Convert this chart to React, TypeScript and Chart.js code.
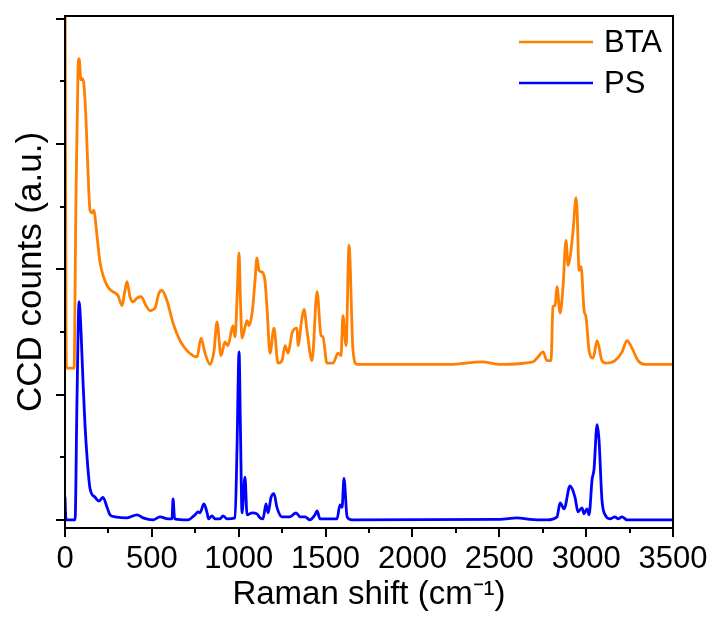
import React, { useEffect, useRef } from "react";
import { Chart, registerables } from "chart.js";

Chart.register(...registerables);

// ---- Data (Raman shift in cm-1, CCD counts in a.u., PS offset 0, BTA offset ~1.2) ----
const btaX = [
  0, 8, 52, 63, 75, 81, 92, 101, 109, 121, 132, 144, 155, 167, 178, 190, 201, 219, 242, 265,
  288, 305, 328, 345, 357, 374, 391, 415, 438, 466, 489, 518, 541, 558, 587, 622, 662, 702, 737, 760,
  783, 806, 835, 858, 875, 898, 921, 938, 967, 979, 990, 1002, 1010, 1019, 1048, 1059, 1077, 1094, 1105, 1117,
  1128, 1140, 1151, 1163, 1180, 1203, 1226, 1249, 1267, 1284, 1307, 1336, 1341, 1364, 1376, 1393, 1422, 1451, 1474, 1485,
  1508, 1543, 1572, 1589, 1600, 1618, 1635, 1658, 1681, 1929, 2216, 2400, 2504, 2694, 2723, 2752, 2775, 2798, 2809, 2821,
  2832, 2850, 2867, 2884, 2896, 2907, 2925, 2942, 2948, 2959, 2971, 2988, 2999, 3017, 3040, 3063, 3091, 3114, 3166, 3207,
  3235, 3264, 3299, 3339, 3500,
];
const btaY = [
  4.6, 1.21, 1.21, 2.55, 3.59, 3.68, 3.51, 3.52, 3.47, 3.19, 2.79, 2.47, 2.45, 2.47, 2.35, 2.19, 2.06, 1.95, 1.87, 1.83,
  1.81, 1.79, 1.71, 1.83, 1.9, 1.78, 1.74, 1.77, 1.78, 1.71, 1.67, 1.69, 1.81, 1.83, 1.75, 1.57, 1.43, 1.35, 1.31, 1.3,
  1.45, 1.33, 1.24, 1.35, 1.58, 1.31, 1.42, 1.39, 1.55, 1.46, 1.75, 2.13, 1.75, 1.45, 1.59, 1.55, 1.65, 1.91, 2.09, 1.99,
  1.98, 1.97, 1.91, 1.69, 1.33, 1.53, 1.25, 1.27, 1.39, 1.33, 1.49, 1.53, 1.39, 1.61, 1.68, 1.51, 1.27, 1.82, 1.47, 1.46,
  1.25, 1.25, 1.33, 1.31, 1.63, 1.39, 2.19, 1.35, 1.24, 1.24, 1.24, 1.26, 1.24, 1.26, 1.3, 1.34, 1.27, 1.27, 1.7, 1.71,
  1.86, 1.65, 1.86, 2.23, 2.03, 2.09, 2.31, 2.57, 2.47, 1.99, 2.02, 1.67, 1.62, 1.35, 1.29, 1.43, 1.27, 1.25, 1.27, 1.34,
  1.43, 1.37, 1.27, 1.24, 1.24,
];

const psX = [
  0, 6, 12, 58, 69, 81, 92, 104, 115, 127, 144, 173, 196, 219, 242, 259, 288, 357, 415, 449,
  507, 547, 593, 616, 622, 631, 708, 748, 766, 777, 800, 818, 826, 846, 864, 892, 910, 933, 979, 990,
  1002, 1010, 1019, 1036, 1048, 1077, 1105, 1123, 1140, 1157, 1169, 1186, 1203, 1220, 1249, 1295, 1330, 1353, 1382, 1410,
  1439, 1451, 1468, 1566, 1583, 1595, 1606, 1624, 1652, 2504, 2602, 2677, 2775, 2832, 2850, 2873, 2907, 2936, 2953, 2976,
  2988, 3005, 3017, 3034, 3045, 3063, 3074, 3091, 3109, 3137, 3166, 3183, 3207, 3235, 3500,
];
const psY = [
  0.18, 0.0, 0.0, 0.0, 0.96, 1.74, 1.51, 1.09, 0.76, 0.5, 0.25, 0.18, 0.15, 0.18, 0.1, 0.04, 0.024, 0.016, 0.04, 0.016,
  0.0, 0.024, 0.008, 0.008, 0.167, 0.008, 0.0, 0.04, 0.064, 0.056, 0.127, 0.056, 0.008, 0.032, 0.008, 0.008, 0.032, 0.008, 0.016, 0.56,
  1.34, 0.72, 0.056, 0.34, 0.04, 0.056, 0.048, 0.016, 0.008, 0.127, 0.056, 0.18, 0.21, 0.1, 0.024, 0.024, 0.056, 0.024, 0.024, 0.0,
  0.04, 0.072, 0.008, 0.008, 0.12, 0.1, 0.33, 0.024, 0.0, 0.004, 0.016, 0.004, 0.0, 0.024, 0.135, 0.088, 0.27, 0.18, 0.064, 0.096,
  0.048, 0.088, 0.04, 0.32, 0.4, 0.76, 0.64, 0.16, 0.04, 0.008, 0.024, 0.008, 0.024, 0.0, 0.0,
];

const seriesLabels = ["BTA", "PS"];
const seriesColors = ["#FF7F00", "#0000FF"];

const xMajorTicks = [0, 500, 1000, 1500, 2000, 2500, 3000, 3500];
const xMinorTicks = [250, 750, 1250, 1750, 2250, 2750, 3250];
const yMajorTicks = [0, 1, 2, 3, 4];
const yMinorTicks = [0.5, 1.5, 2.5, 3.5];

const xTitle = "Raman shift (cm⁻¹)";
const yTitle = "CCD counts (a.u.)";

const FONT = "'Liberation Sans', Arial, Helvetica, sans-serif";

const framePlugin = {
  id: "frameAndLegend",
  afterDatasetsDraw(chart: any) {
    const { ctx, chartArea: a, scales } = chart;
    const xs = scales.x;
    const ys = scales.y;
    ctx.save();
    ctx.strokeStyle = "#000";
    ctx.lineWidth = 2;
    ctx.strokeRect(a.left, a.top, a.right - a.left, a.bottom - a.top);
    ctx.lineWidth = 2;
    ctx.beginPath();
    const tick = (v: number, len: number, horiz: boolean) => {
      if (horiz) {
        const px = Math.round(xs.getPixelForValue(v));
        ctx.moveTo(px, a.bottom);
        ctx.lineTo(px, a.bottom + len);
      } else {
        const py = Math.round(ys.getPixelForValue(v));
        ctx.moveTo(a.left, py);
        ctx.lineTo(a.left - len, py);
      }
    };
    xMajorTicks.forEach((v) => tick(v, 9, true));
    xMinorTicks.forEach((v) => tick(v, 5, true));
    yMajorTicks.forEach((v) => tick(v, 9, false));
    yMinorTicks.forEach((v) => tick(v, 5, false));
    ctx.stroke();

    // legend
    const ds = chart.data.datasets;
    ctx.font = `31px ${FONT}`;
    ctx.textBaseline = "middle";
    ctx.textAlign = "left";
    ds.forEach((d: any, i: number) => {
      const y = a.top + 26 + i * 41;
      ctx.strokeStyle = d.borderColor;
      ctx.lineWidth = 2.5;
      ctx.beginPath();
      ctx.moveTo(a.right - 154, y);
      ctx.lineTo(a.right - 80, y);
      ctx.stroke();
      ctx.fillStyle = "#000";
      ctx.fillText(d.label, a.right - 69, y + 1);
    });
    ctx.restore();
  },
};

export default function App() {
  const ref = useRef<HTMLCanvasElement | null>(null);
  useEffect(() => {
    if (!ref.current) return;
    const mk = (xs: number[], ys: number[]) => xs.map((x, i) => ({ x, y: ys[i] }));
    const common = {
      borderWidth: 2.8,
      pointRadius: 0,
      cubicInterpolationMode: "monotone",
      borderJoinStyle: "round",
      borderCapStyle: "round",
    };
    const chart = new Chart(ref.current, {
      type: "line",
      data: {
        datasets: [
          {
            ...common,
            label: seriesLabels[0],
            data: mk(btaX, btaY),
            borderColor: seriesColors[0],
            backgroundColor: seriesColors[0],
            order: 1,
          },
          {
            ...common,
            label: seriesLabels[1],
            data: mk(psX, psY),
            borderColor: seriesColors[1],
            backgroundColor: seriesColors[1],
            order: 0,
          },
        ],
      },
      options: {
        responsive: false,
        animation: false,
        events: [],
        layout: { padding: { top: 16, right: 40, left: 0, bottom: 0 } },
        plugins: {
          legend: { display: false },
          tooltip: { enabled: false },
        },
        scales: {
          x: {
            type: "linear",
            min: 0,
            max: 3500,
            grid: { display: false, drawTicks: false },
            border: { display: false },
            afterBuildTicks: (s: any) => {
              s.ticks = xMajorTicks.map((v) => ({ value: v }));
            },
            ticks: {
              padding: 13,
              color: "#000",
              font: { size: 31, family: FONT },
              maxRotation: 0,
              autoSkip: false,
              callback: (v: any) => String(v),
            },
            title: {
              display: true,
              text: xTitle,
              color: "#000",
              font: { size: 33, family: FONT },
              padding: { top: 0, bottom: 2 },
            },
            afterFit: (s: any) => {
              s.height = 89;
              s.paddingLeft = 0;
              s.paddingRight = 0;
            },
          },
          y: {
            type: "linear",
            min: -0.065,
            max: 4.02,
            grid: { display: false, drawTicks: false },
            border: { display: false },
            ticks: { display: false },
            title: {
              display: true,
              text: yTitle,
              color: "#000",
              font: { size: 35, family: FONT },
              padding: { top: 10, bottom: 0 },
            },
            afterFit: (s: any) => {
              s.width = 65;
              s.paddingTop = 0;
              s.paddingBottom = 0;
            },
          },
        },
      },
      plugins: [framePlugin],
    } as any);
    return () => chart.destroy();
  }, []);
  return (
    <div style={{ position: "absolute", left: 0, top: 0, width: 713, height: 617, background: "#fff" }}>
      <canvas ref={ref} width={713} height={617} style={{ display: "block" }} />
    </div>
  );
}
